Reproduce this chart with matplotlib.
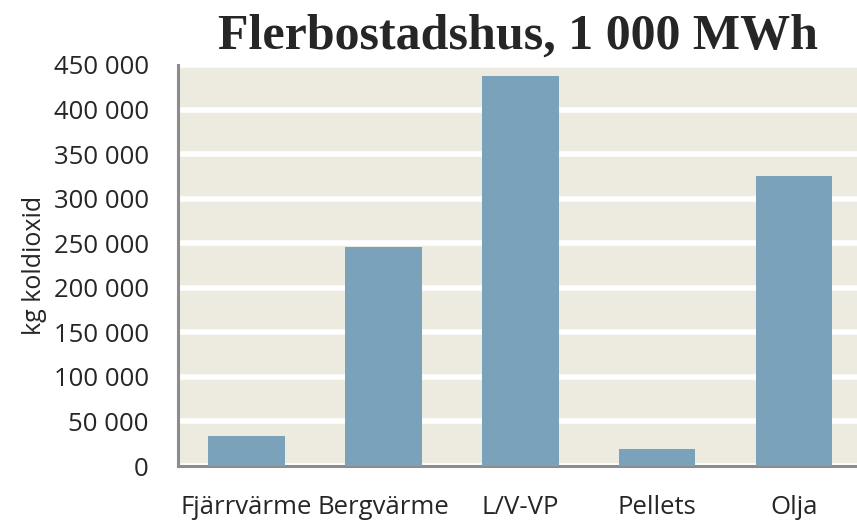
import matplotlib
matplotlib.use("Agg")
import matplotlib.pyplot as plt
from matplotlib.ticker import FuncFormatter

# data
CATEGORIES = ["Fjärrvärme", "Bergvärme", "L/V-VP", "Pellets", "Olja"]
CO2_KG = [34000, 246000, 438000, 19000, 325000]
Y_TICKS = [0, 50000, 100000, 150000, 200000, 250000, 300000, 350000, 400000, 450000]

BAR_COLOR = "#7aa3bb"
BG_COLOR = "#edeae0"
SPINE_COLOR = "#8c8c8c"
TEXT_COLOR = "#262626"


def space_thousands(v, pos=None):
    return f"{int(v):,}".replace(",", " ")


def main():
    fig = plt.figure(figsize=(8.57, 5.22), dpi=100)
    ax = fig.add_axes([178 / 857, 1 - 466 / 522, 1 - 178 / 857, (466 - 65) / 522])

    x = range(len(CATEGORIES))
    ax.set_facecolor(BG_COLOR)
    ax.bar(x, CO2_KG, width=0.56, color=BAR_COLOR, zorder=3)

    ax.set_xlim(-0.5, 4.46)
    ax.set_ylim(0, 450000)
    ax.set_yticks(Y_TICKS)
    ax.yaxis.set_major_formatter(FuncFormatter(space_thousands))
    ax.grid(axis="y", color="white", linewidth=4, zorder=1)
    ax.set_axisbelow(True)

    ax.set_xticks(list(x))
    ax.set_xticklabels(CATEGORIES)
    ax.tick_params(axis="both", length=0, labelsize=18.5, colors=TEXT_COLOR)
    ax.tick_params(axis="y", pad=21)
    ax.tick_params(axis="x", pad=21)
    for lab in ax.get_xticklabels() + ax.get_yticklabels():
        lab.set_family("Open Sans")

    for side in ("top", "right"):
        ax.spines[side].set_visible(False)
    for side in ("left", "bottom"):
        ax.spines[side].set_color(SPINE_COLOR)
        ax.spines[side].set_linewidth(2.2)

    ax.set_ylabel("kg koldioxid", fontsize=18, family="Open Sans", color=TEXT_COLOR, labelpad=5)

    fig.text(518 / 857, 1 - 37 / 522, "Flerbostadshus, 1 000 MWh", ha="center", va="center",
             fontsize=36, fontweight="bold", family="Liberation Serif", color=TEXT_COLOR)

    fig.savefig("out.png", dpi=100)
    plt.close(fig)


if __name__ == "__main__":
    main()
